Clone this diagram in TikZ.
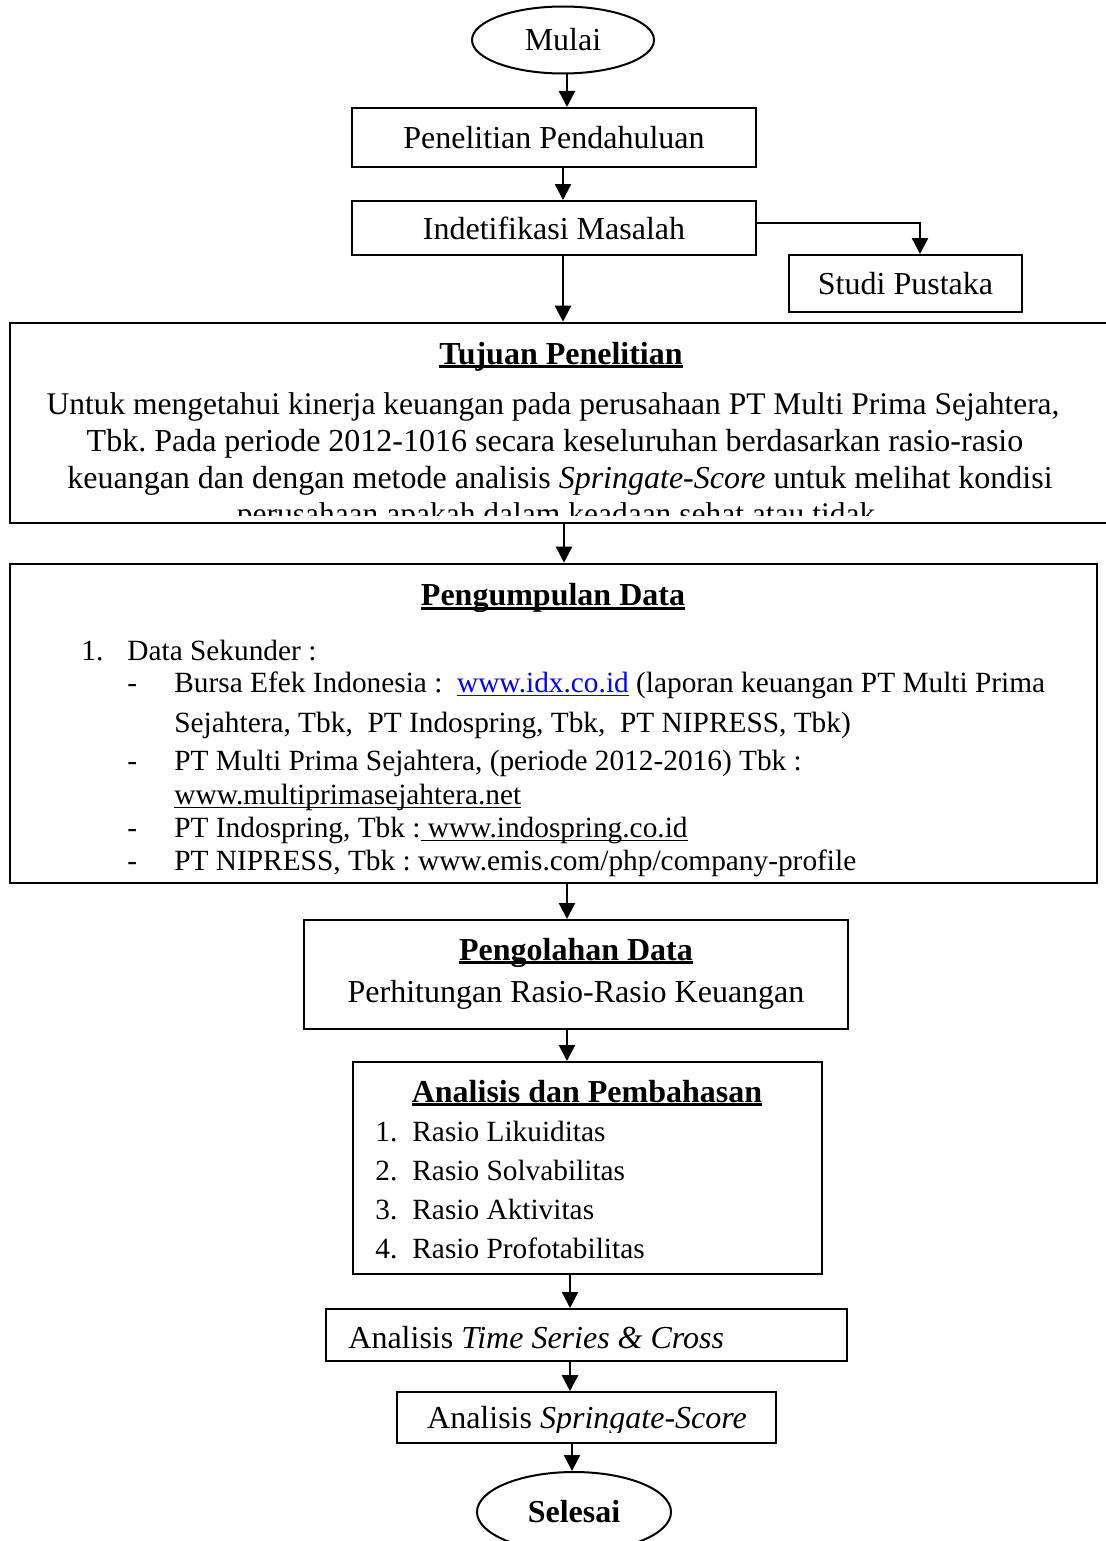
\documentclass[tikz,border=0pt]{standalone}
\usepackage{fontspec}
\setmainfont{Liberation Serif}
\usetikzlibrary{arrows.meta,shapes.geometric}
\definecolor{linkblue}{RGB}{0,0,255}
\newcommand\ulx[3]{\setbox0=\hbox{#3}\rlap{\copy0}\rule[#1]{\wd0}{#2}}
\frenchspacing
\begin{document}
\begin{tikzpicture}[x=0.5pt,y=-0.5pt,
  every node/.style={font=\fontsize{16pt}{19pt}\selectfont, inner sep=0pt},
  box/.style={draw, line width=1pt, rectangle},
  bigbox/.style={draw, line width=1.3pt, rectangle},
  thinbox/.style={draw, line width=0.8pt, rectangle},
  term/.style={draw, ellipse, line width=1pt},
  arr/.style={line width=1.2pt, -{Triangle[width=8pt,length=8pt]}},
  lst/.style={anchor=base west, font=\fontsize{14.67pt}{17pt}\selectfont},
  ttl/.style={anchor=base, font=\fontsize{16pt}{19pt}\selectfont\bfseries},
  body/.style={anchor=base},
  tjbody/.style={anchor=base, font=\fontsize{15.75pt}{19pt}\selectfont},
]
\useasboundingbox (0,0) rectangle (1106,1541);

% ---- boxes ----
\node[term, minimum width=91pt, minimum height=33.5pt] (mulai) at (563,40) {Mulai};
\node[box, minimum width=202pt, minimum height=29.5pt] (pp) at (554,137.5) {Penelitian Pendahuluan};
\node[box, minimum width=202pt, minimum height=27pt] (id) at (554,228) {Indetifikasi Masalah};
\node[box, minimum width=116.5pt, minimum height=28.5pt] (studi) at (905.5,283.5) {Studi Pustaka};
\node[bigbox, minimum width=555pt, minimum height=100pt] (tujuan) at (565,423) {};
\node[bigbox, minimum width=543.5pt, minimum height=159.5pt] (peng) at (553.5,723.5) {};
\node[box, minimum width=272pt, minimum height=54.5pt] (olah) at (576,974.5) {};
\node[box, minimum width=234.5pt, minimum height=106pt] (anal) at (587.5,1168) {};
\node[box, minimum width=260.5pt, minimum height=26pt] (time) at (586.5,1335) {};
\node[thinbox, minimum width=189.5pt, minimum height=25.5pt] (spring) at (586.5,1417.5) {};
\node[term, minimum width=97pt, minimum height=40pt, font=\fontsize{16pt}{19pt}\selectfont\bfseries] (sel) at (574,1512) {Selesai};

% ---- Tujuan Penelitian ----
\node[ttl] (tjt) at (561,364) {\ulx{-2.2pt}{1.5pt}{Tujuan Penelitian}};
\begin{scope}
  \clip (12,325) rectangle (1106,515);
  \node[tjbody] (tj1) at (553,414) {Untuk mengetahui kinerja keuangan pada perusahaan PT Multi Prima Sejahtera,};
  \node[body] (tj2) at (555,451) {Tbk. Pada periode 2012-1016 secara keseluruhan berdasarkan rasio-rasio};
  \node[body] (tj3) at (560,488) {keuangan dan dengan metode analisis \textit{Springate-Score} untuk melihat kondisi};
  \node[tjbody] (tj4) at (556,524) {perusahaan apakah dalam keadaan sehat atau tidak};
\end{scope}

% ---- Pengumpulan Data ----
\node[ttl] (pgt) at (553,605) {\ulx{-2.5pt}{1.6pt}{Pengumpulan Data}};
\node[lst] (n1) at (81,660) {1.};
\node[lst] (ds) at (127,660) {Data Sekunder :};
\node[lst] (dA) at (127,692) {-};
\node[lst] (dB) at (127,770) {-};
\node[lst] (dC) at (127,837) {-};
\node[lst] (dD) at (127,870) {-};
\node[lst] (iA1) at (174,692) {Bursa Efek Indonesia :\ \ \textcolor{linkblue}{\ulx{-2pt}{0.7pt}{www.idx.co.id}} (laporan keuangan PT Multi Prima};
\node[lst] (iA2) at (174,732) {Sejahtera, Tbk,\ \ PT Indospring, Tbk,\ \ PT NIPRESS, Tbk)};
\node[lst] (iB1) at (174,770) {PT Multi Prima Sejahtera, (periode 2012-2016) Tbk :};
\node[lst] (iB2) at (174,804) {\ulx{-2pt}{0.7pt}{www.multiprimasejahtera.net}};
\node[lst] (iC) at (174,837) {PT Indospring, Tbk :\ulx{-2pt}{0.7pt}{\ www.indospring.co.id}};
\node[lst] (iD) at (174,870) {PT NIPRESS, Tbk : www.emis.com/php/company-profile};

% ---- Pengolahan Data ----
\node[ttl] (olt) at (576,960) {\ulx{-2.2pt}{1.5pt}{Pengolahan Data}};
\node[body] (ols) at (576,1002) {Perhitungan Rasio-Rasio Keuangan};

% ---- Analisis dan Pembahasan ----
\node[ttl] (ant) at (587,1102) {\ulx{-2.2pt}{1.5pt}{Analisis dan Pembahasan}};
\node[lst] (a1n) at (375,1141) {1.};
\node[lst] (a2n) at (375,1180) {2.};
\node[lst] (a3n) at (375,1219) {3.};
\node[lst] (a4n) at (375,1258) {4.};
\node[lst] (a1) at (412,1141) {Rasio Likuiditas};
\node[lst] (a2) at (412,1180) {Rasio Solvabilitas};
\node[lst] (a3) at (412,1219) {Rasio Aktivitas};
\node[lst] (a4) at (412,1258) {Rasio Profotabilitas};

% ---- Time series / Springate ----
\node[anchor=base west] (tt) at (348,1348) {Analisis \textit{Time Series \& Cross}};
\begin{scope}
  \clip (398,1394) rectangle (775,1432);
  \node[body] (st) at (587,1428) {Analisis \textit{Springate-Score}};
\end{scope}

% ---- connectors ----
\coordinate (c1) at (567,0);
\coordinate (c2) at (563,0);
\coordinate (c3) at (920,0);
\coordinate (c4) at (564,0);
\coordinate (c5) at (567,0);
\coordinate (c6) at (570,0);
\coordinate (c7) at (572,0);
\coordinate (ry) at (0,223);
\draw[arr] (mulai.south -| c1) -- (pp.north -| c1);
\draw[arr] (pp.south -| c2) -- (id.north -| c2);
\draw[arr] (id.east |- ry) -| (studi.north -| c3);
\draw[arr] (id.south -| c2) -- (tujuan.north -| c2);
\draw[arr] (tujuan.south -| c4) -- (peng.north -| c4);
\draw[arr] (peng.south -| c5) -- (olah.north -| c5);
\draw[arr] (olah.south -| c5) -- (anal.north -| c5);
\draw[arr] (anal.south -| c6) -- (time.north -| c6);
\draw[arr] (time.south -| c6) -- (spring.north -| c6);
\draw[arr] (spring.south -| c7) -- (sel.north -| c7);
\end{tikzpicture}
\end{document}
